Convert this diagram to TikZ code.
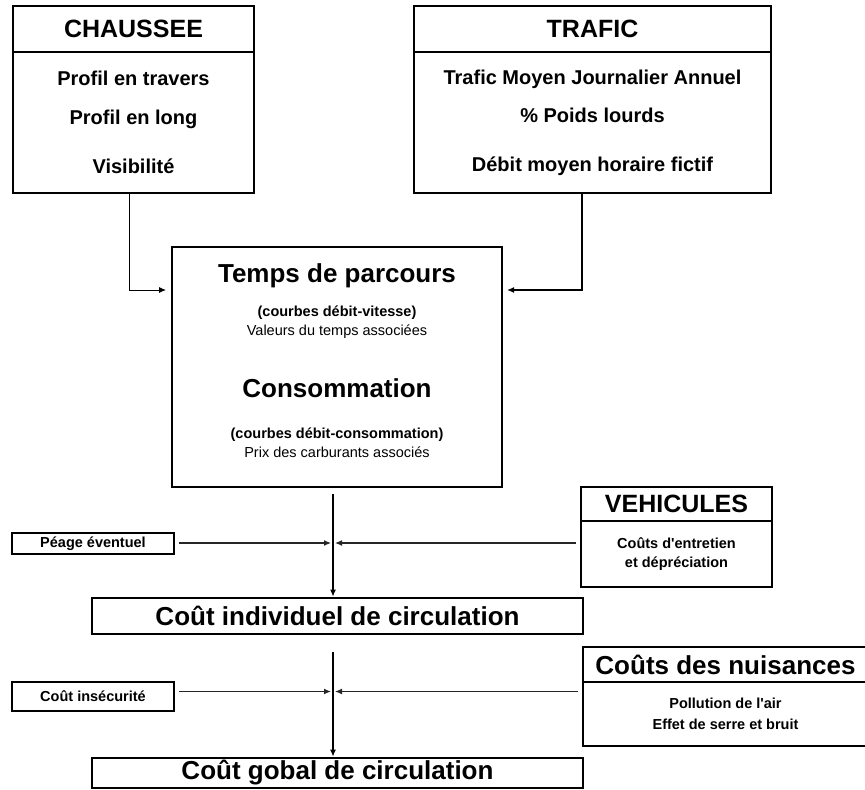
\documentclass[tikz,border=0pt]{standalone}
\usepackage{fontspec}
\setmainfont{Liberation Sans}[Ligatures=TeXOff]
\usetikzlibrary{arrows.meta}
\tikzset{
	box/.style n args={2}{draw=black, line width=2.9pt, inner sep=0pt, minimum width=#1, minimum height=#2},
	title/.style={font=\fontsize{25}{30}\selectfont\bfseries},
	big/.style={font=\fontsize{26}{30}\selectfont\bfseries},
	item/.style={font=\fontsize{20}{24}\selectfont\bfseries, align=center},
	small/.style={font=\fontsize{14.5}{19}\selectfont\bfseries, align=center},
	note/.style={font=\fontsize{14.5}{19}\selectfont, align=center}
}

\begin{document}
\begin{tikzpicture}[x=1pt, y=-1pt, >={Latex[length=7pt,width=6pt]},
	feed/.style={->, draw=black!85, line width=1.2pt},
	down/.style={->, draw=black, line width=1.2pt}]
	\useasboundingbox (0,0) rectangle (865,790);

	% --- chaussee ---
	\node[box={241}{46}, title] (chh) at (133.5,29) {CHAUSSEE};
	\node[box={241}{141}, item] (chb) at (133.5,122.5) {Profil en travers\\[15pt]Profil en long\\[25pt]Visibilité};

	% --- trafic ---
	\node[box={357}{46}, title] (trh) at (592.5,29) {TRAFIC};
	\node[box={357}{141}, item] (trb) at (592.5,122.5) {Trafic Moyen Journalier Annuel\\[14pt]\% Poids lourds\\[25pt]Débit moyen horaire fictif};

	% --- temps de parcours / consommation ---
	\node[box={330}{240}] (tp) at (337,367) {};
	\node[big] (tpa) at (337,276) {Temps de parcours};
	\node[note] (tpb) at (337,322) {\textbf{(courbes débit-vitesse)}\\Valeurs du temps associées};
	\node[big] (csa) at (337,388) {Consommation};
	\node[note] (csb) at (337,443) {\textbf{(courbes débit-consommation)}\\Prix des carburants associés};

	\coordinate (tpL) at (166,290);
	\coordinate (tpR) at (507,290);

	% --- peage / vehicules ---
	\node[box={162}{21}, small] (pe) at (93,543.5) {Péage éventuel};
	\node[box={191}{34}, title] (veh) at (676.5,504) {VEHICULES};
	\node[box={191}{66}, small] (veb) at (676.5,554) {Coûts d'entretien\\et dépréciation};
	\coordinate (j1) at (333,543);

	\node[box={491}{36}, big] (ci) at (337.5,616) {Coût individuel de circulation};

	% --- insecurite / nuisances ---
	\node[box={162}{29}, small] (ins) at (93,696.5) {Coût insécurité};
	\node[box={285}{35}, big] (nuh) at (725.5,664.5) {Coûts des nuisances};
	\node[box={285}{64}, small] (nub) at (725.5,714) {Pollution de l'air\\[2pt]Effet de serre et bruit};
	\coordinate (j2) at (333,691.5);

	\node[box={491}{30}, big] (cg) at (337.5,773) {Coût gobal de circulation};

	\draw[->, line width=0.9pt] ([xshift=-4.5pt]chb.south) |- (tpL);
	\draw[->, line width=2.4pt] ([xshift=-10.5pt]trb.south) |- (tpR);

	\draw[down] ([yshift=-6pt]tp.south -| j1) -- (ci.north -| j1);
	\draw[feed] ([xshift=4pt]pe.east |- j1) -- ([xshift=-2pt]j1);
	\draw[feed] ([xshift=-4pt]veb.west |- j1) -- ([xshift=2pt]j1);

	\draw[down] ([yshift=-17pt]ci.south -| j2) -- (cg.north -| j2);
	\draw[feed] ([xshift=4pt]ins.east |- j2) -- ([xshift=-2pt]j2);
	\draw[feed] ([xshift=-4pt]nub.west |- j2) -- ([xshift=2pt]j2);

\end{tikzpicture}
\end{document}
